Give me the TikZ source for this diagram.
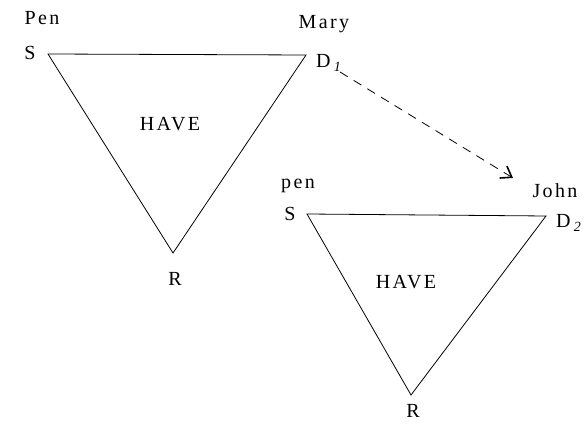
\documentclass[tikz,border=0pt]{standalone}
\usepackage{fontspec}
\setmainfont{Liberation Serif}[LetterSpace=12]
\usetikzlibrary{arrows.meta}

\begin{document}
\begin{tikzpicture}[x=1pt,y=-1pt,>={Straight Barb[length=10pt,width=14pt,line width=1.6pt]},
  lbl/.style={inner sep=0pt,font=\fontsize{20}{22}\selectfont},
  tri/.style={draw,line width=0.8pt,line join=miter}]
\useasboundingbox (0,0) rectangle (584,427);
% first triangle
\coordinate (s1) at (48,54);
\coordinate (d1) at (306,55);
\coordinate (r1) at (173,253);
\draw[tri] (s1)--(d1)--(r1)--cycle;
\node[lbl] (pen1) at (42,18) {Pen};
\node[lbl] (sl1) at (30,53) {S};
\node[lbl] (mary) at (324,24) {Mary};
\node[lbl,anchor=west] (dl1) at (316,63) {D\,$_{\mathit{1}}$};
\node[lbl] (have1) at (170,124) {HAVE};
\node[lbl] (rl1) at (175,279) {R};
% second triangle
\coordinate (s2) at (307,214);
\coordinate (d2) at (546,216);
\coordinate (r2) at (411,395);
\draw[tri] (s2)--(d2)--(r2)--cycle;
\node[lbl] (pen2) at (298,186) {pen};
\node[lbl] (sl2) at (290,214) {S};
\node[lbl] (john) at (555,191) {John};
\node[lbl,anchor=west] (dl2) at (556,223) {D\,$_{\mathit{2}}$};
\node[lbl] (have2) at (406,282) {HAVE};
\node[lbl] (rl2) at (413,411) {R};
% transfer
\coordinate (from) at (340,72);
\coordinate (to) at (513,178);
\draw[->,dashed,dash pattern=on 9pt off 7pt,line width=0.8pt] (from)--(to);
\end{tikzpicture}
\end{document}
